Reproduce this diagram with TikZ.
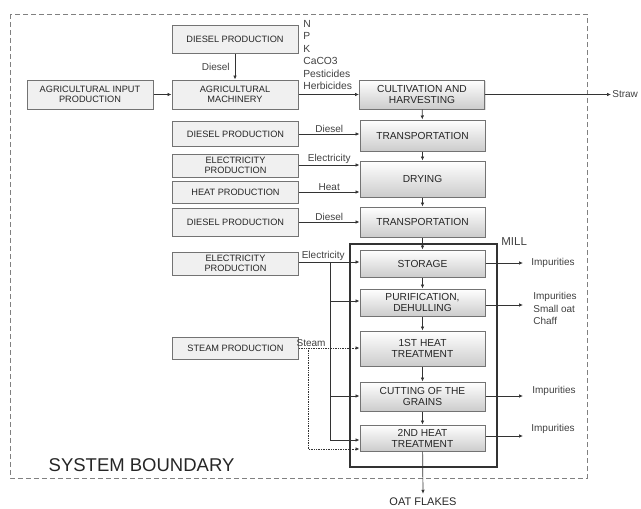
\documentclass[tikz,border=0pt]{standalone}
\usepackage{fontspec}
\setmainfont{Liberation Sans}
\usetikzlibrary{positioning}
\usetikzlibrary{calc}
\usetikzlibrary{arrows.meta}
\usetikzlibrary{shadows}
\definecolor{linegray}{rgb}{0.2,0.2,0.2}
\definecolor{boxgray}{rgb}{0.94,0.94,0.94}
\definecolor{edgegray}{rgb}{0.45,0.45,0.45}

\begin{document}
\begin{tikzpicture}
    [x=1pt, y=-1pt,
    source/.style={draw=edgegray, fill=boxgray, line width=1pt, minimum width=126pt, align=center, inner sep=1pt, text=black!85, font=\fontsize{9.2}{10}\selectfont},
    process/.style={draw=edgegray, top color=white, bottom color=gray!40, line width=1pt, drop shadow={opacity=0.25, shadow xshift=1pt, shadow yshift=-1pt}, minimum width=125pt, align=center, inner sep=1pt, text=black!85, font=\fontsize{10.2}{11}\selectfont},
    flow/.style={font=\fontsize{10}{12}\selectfont, text=black!75, inner sep=1pt},
    >={Latex[length=4pt, width=3.5pt]}, linegray, line width=0.7pt]
    \useasboundingbox (0,0) rectangle (641,509);
    % system boundary
    \draw[dashed, gray, line width=1pt, dash pattern=on 5pt off 3pt] (10,14) rectangle (587,478);
    \node[anchor=west, font=\fontsize{18.5}{21}\selectfont, text=black!85] (sysb) at (45,465) {SYSTEM BOUNDARY};
    % mill
    \draw[line width=1.2pt] (350,244) rectangle (497,467);
    \node[flow, anchor=west, font=\fontsize{11.5}{13}\selectfont] (mill) at (500,242) {MILL};
    % sources
    \node[source, minimum height=28pt] (dsl1) at (235,39) {DIESEL PRODUCTION};
    \node[source, minimum height=29pt] (agrin) at (90,94.5) {AGRICULTURAL INPUT\\PRODUCTION};
    \node[source, minimum height=29pt] (agmach) at (235,94.5) {AGRICULTURAL\\MACHINERY};
    \node[source, minimum height=25pt] (dsl2) at (235.5,134) {DIESEL PRODUCTION};
    \node[source, minimum height=23pt] (elec1) at (235.5,165.5) {ELECTRICITY\\PRODUCTION};
    \node[source, minimum height=22pt] (heat) at (235.5,192) {HEAT PRODUCTION};
    \node[source, minimum height=28pt] (dsl3) at (235.5,222) {DIESEL PRODUCTION};
    \node[source, minimum height=23pt] (elec2) at (235.5,263.5) {ELECTRICITY\\PRODUCTION};
    \node[source, minimum height=22pt] (steam) at (235.5,348) {STEAM PRODUCTION};
    % process chain
    \node[process, minimum height=29pt] (cult) at (422,94.5) {CULTIVATION AND\\HARVESTING};
    \node[process, minimum height=31pt] (trans1) at (422.5,135.5) {TRANSPORTATION};
    \node[process, minimum height=36pt] (dry) at (422.5,179) {DRYING};
    \node[process, minimum height=30pt] (trans2) at (422.5,222) {TRANSPORTATION};
    \node[process, minimum height=27pt] (store) at (422.5,263.5) {STORAGE};
    \node[process, minimum height=27pt] (purif) at (422.5,302.5) {PURIFICATION,\\DEHULLING};
    \node[process, minimum height=35pt] (heat1) at (422.5,348.5) {1ST HEAT\\TREATMENT};
    \node[process, minimum height=29pt] (cut) at (422.5,396.5) {CUTTING OF THE\\GRAINS};
    \node[process, minimum height=26pt] (heat2) at (422.5,438) {2ND HEAT\\TREATMENT};
    % outputs
    \node[flow, anchor=west] (straw) at (611,94.5) {Straw};
    \node[flow, anchor=west] (imp1) at (530,263) {Impurities};
    \node[flow, anchor=north west, align=left, font=\fontsize{10}{12.5}\selectfont] (imp2) at (532,291) {Impurities\\Small oat\\Chaff};
    \node[flow, anchor=west] (imp3) at (531,391) {Impurities};
    \node[flow, anchor=west] (imp4) at (530,429) {Impurities};
    \node[flow, font=\fontsize{11}{12}\selectfont, text=black!85] (oat) at (423,502) {OAT FLAKES};
    \node[flow, anchor=north west, align=left, font=\fontsize{10.3}{12.4}\selectfont] (npk) at (302,19) {N\\P\\K\\CaCO3\\Pesticides\\Herbicides};
    % junctions
    \coordinate (ej) at (330,262);
    \coordinate (sj) at (308,348);
    % agriculture
    \draw[->] (dsl1) -- (agmach) node[flow, midway, left=4pt] {Diesel};
    \draw[->] (agrin) -- (agmach);
    \draw[->] (agmach) -- (cult);
    \draw[->] (cult) -- (straw.west);
    % chain
    \draw[->] (cult) -- (trans1);
    \draw[->] (trans1) -- (dry);
    \draw[->] (dry) -- (trans2);
    \draw[->] (trans2) -- (store);
    \draw[->] (store) -- (purif);
    \draw[->] (purif) -- (heat1);
    \draw[->] (heat1) -- (cut);
    \draw[->] (cut) -- (heat2);
    \draw[->] (heat2) -- ($(oat.north)+(0,-3)$);
    % energy inputs
    \draw[->] (dsl2.east) -- (dsl2.east -| trans1.west) node[flow, midway, above] {Diesel};
    \draw[->] (elec1.east |- 0,165) -- (dry.west |- 0,165) node[flow, midway, above] {Electricity};
    \draw[->] (heat.east) -- (heat.east -| dry.west) node[flow, midway, above] {Heat};
    \draw[->] (dsl3.east) -- (dsl3.east -| trans2.west) node[flow, midway, above] {Diesel};
    \draw[->] (elec2.east |- ej) -- (store.west |- ej) node[flow, pos=0.4, above] {Electricity};
    \draw (ej) -- (330,440);
    \draw[->] (330,301) -- (purif.west |- 0,301);
    \draw[->] (330,396) -- (cut.west |- 0,396);
    \draw[->] (330,440) -- (heat2.west |- 0,440);
    \draw[->, densely dotted] (steam.east) -- (heat1.west |- steam.east) node[flow, pos=0.2, above] {Steam};
    \draw[->, densely dotted] (sj) -- (308,449) -- (heat2.west |- 0,449);
    % wastes
    \draw[->] (store.east |- imp1) -- (523,263);
    \draw[->] (purif.east |- 0,305) -- (523,305);
    \draw[->] (cut.east |- 0,396) -- (523,396);
    \draw[->] (heat2.east |- 0,436) -- (523,436);
\end{tikzpicture}
\end{document}
